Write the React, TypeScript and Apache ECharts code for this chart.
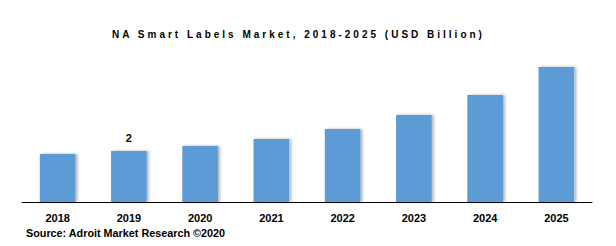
import React, { useEffect, useRef } from "react";
import * as echarts from "echarts";

const categories = ["2018", "2019", "2020", "2021", "2022", "2023", "2024", "2025"];
const values = [1.88, 2.0, 2.2, 2.47, 2.86, 3.41, 4.2, 5.29];
const labelled = ["2019"];
const titleText = "NA Smart Labels Market, 2018-2025 (USD Billion)";
const sourceText = "Source: Adroit Market Research ©2020";

const css = `.chart-box text[style*="Arial"] { letter-spacing: 3px; }`;

export default function App() {
  const ref = useRef<HTMLDivElement>(null);
  useEffect(() => {
    if (!ref.current) return;
    const chart = echarts.init(ref.current, undefined, { renderer: "svg" });
    chart.setOption({
      animation: false,
      backgroundColor: "#ffffff",
      title: {
        text: titleText,
        left: 112,
        top: 29,
        padding: 0,
        textStyle: {
          fontFamily: "Arial",
          fontWeight: "bold",
          fontSize: 10,
          color: "#000000",
        },
      },
      grid: { left: 22, right: 24, top: 49, bottom: 44, containLabel: false },
      xAxis: {
        type: "category",
        data: categories,
        axisLine: { show: true, lineStyle: { color: "#000000", width: 1 } },
        axisTick: { show: false },
        axisLabel: {
          margin: 10,
          fontFamily: "Liberation Sans",
          fontWeight: "bold",
          fontSize: 11,
          color: "#000000",
        },
      },
      yAxis: {
        type: "value",
        min: 0,
        max: 6,
        show: false,
        splitLine: { show: false },
      },
      series: [
        {
          type: "bar",
          barWidth: "50%",
          data: values.map((v, i) => ({
            value: v,
            label: {
              show: labelled.includes(categories[i]),
              position: "top",
              distance: 8,
              formatter: () => String(Math.round(v)),
              fontFamily: "Liberation Sans",
              fontWeight: "bold",
              fontSize: 11,
              color: "#000000",
            },
          })),
          itemStyle: {
            color: "#5B9BD5",
            shadowColor: "rgba(0,0,0,0.3)",
            shadowBlur: 3,
            shadowOffsetX: 2,
            shadowOffsetY: 0,
          },
        },
      ],
      graphic: [
        {
          type: "text",
          left: 26,
          top: 227,
          style: {
            text: sourceText,
            font: "bold 10.8px 'Liberation Sans'",
            fill: "#000000",
          },
        },
      ],
    });
    return () => chart.dispose();
  }, []);
  return (
    <>
      <style>{css}</style>
      <div
        ref={ref}
        className="chart-box"
        style={{ width: 616, height: 246, position: "absolute", left: 0, top: 0 }}
      />
    </>
  );
}
